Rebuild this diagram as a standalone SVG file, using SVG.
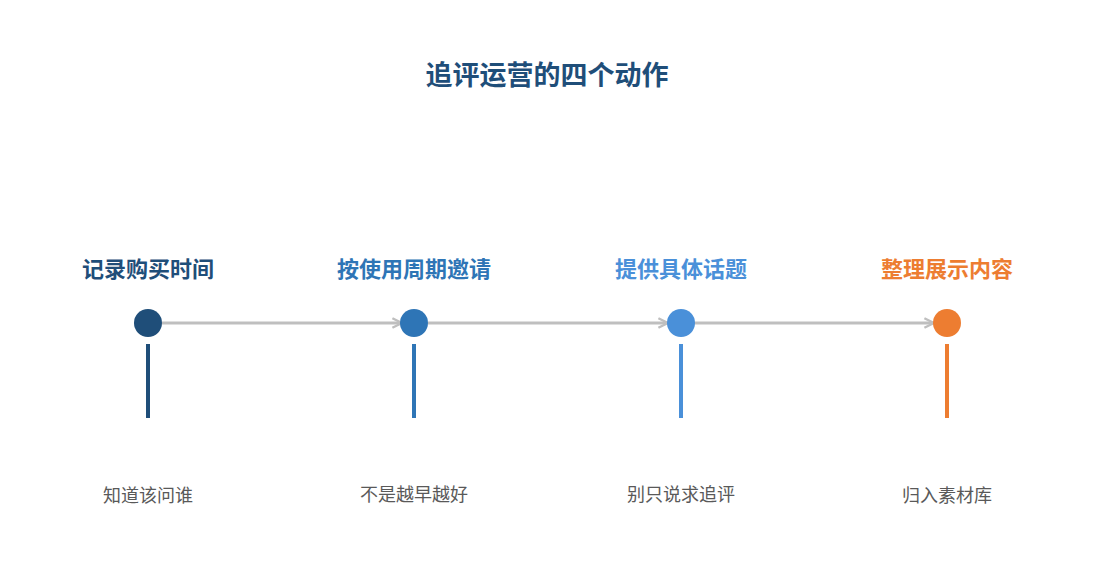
<svg xmlns="http://www.w3.org/2000/svg" width="1095" height="585" viewBox="0 0 1095 585">
<style>
.t{font-family:"Liberation Sans","Noto Sans CJK SC",sans-serif;font-weight:bold;font-size:22px;text-anchor:middle}
.s{font-family:"Liberation Sans","Noto Sans CJK SC",sans-serif;font-size:18px;fill:#595959;text-anchor:middle}
.c{stroke:#bfbfbf;stroke-width:3;fill:none}
</style>
<defs><marker id="a" viewBox="0 0 10 10" refX="9" refY="5" markerWidth="4" markerHeight="4" orient="auto"><path d="M1,1 L9,5 L1,9" fill="none" stroke="#bfbfbf" stroke-width="2"/></marker></defs>
<rect width="1095" height="585" fill="#fff"/>
<text x="547" y="85" class="t" style="font-size:27px;fill:#1f4e79">追评运营的四个动作</text>
<g id="connectors">
<line class="c" x1="162" y1="323" x2="402" y2="323" marker-end="url(#a)"/>
<line class="c" x1="428" y1="323" x2="668" y2="323" marker-end="url(#a)"/>
<line class="c" x1="694" y1="323" x2="934" y2="323" marker-end="url(#a)"/>
</g>
<g id="n1"><text x="148" y="277" class="t" fill="#1f4e79">记录购买时间</text><circle cx="148" cy="323" r="14" fill="#1f4e79"/><line x1="148" y1="344" x2="148" y2="418" stroke="#1f4e79" stroke-width="4"/><text x="148" y="502" class="s">知道该问谁</text></g>
<g id="n2"><text x="414" y="277" class="t" fill="#2e75b6">按使用周期邀请</text><circle cx="414" cy="323" r="14" fill="#2e75b6"/><line x1="414" y1="344" x2="414" y2="418" stroke="#2e75b6" stroke-width="4"/><text x="414" y="501" class="s">不是越早越好</text></g>
<g id="n3"><text x="681" y="277" class="t" fill="#4a90d9">提供具体话题</text><circle cx="681" cy="323" r="14" fill="#4a90d9"/><line x1="681" y1="344" x2="681" y2="418" stroke="#4a90d9" stroke-width="4"/><text x="681" y="501" class="s">别只说求追评</text></g>
<g id="n4"><text x="947" y="277" class="t" fill="#ed7d31">整理展示内容</text><circle cx="947" cy="323" r="14" fill="#ed7d31"/><line x1="947" y1="344" x2="947" y2="418" stroke="#ed7d31" stroke-width="4"/><text x="947" y="502" class="s">归入素材库</text></g>
</svg>
